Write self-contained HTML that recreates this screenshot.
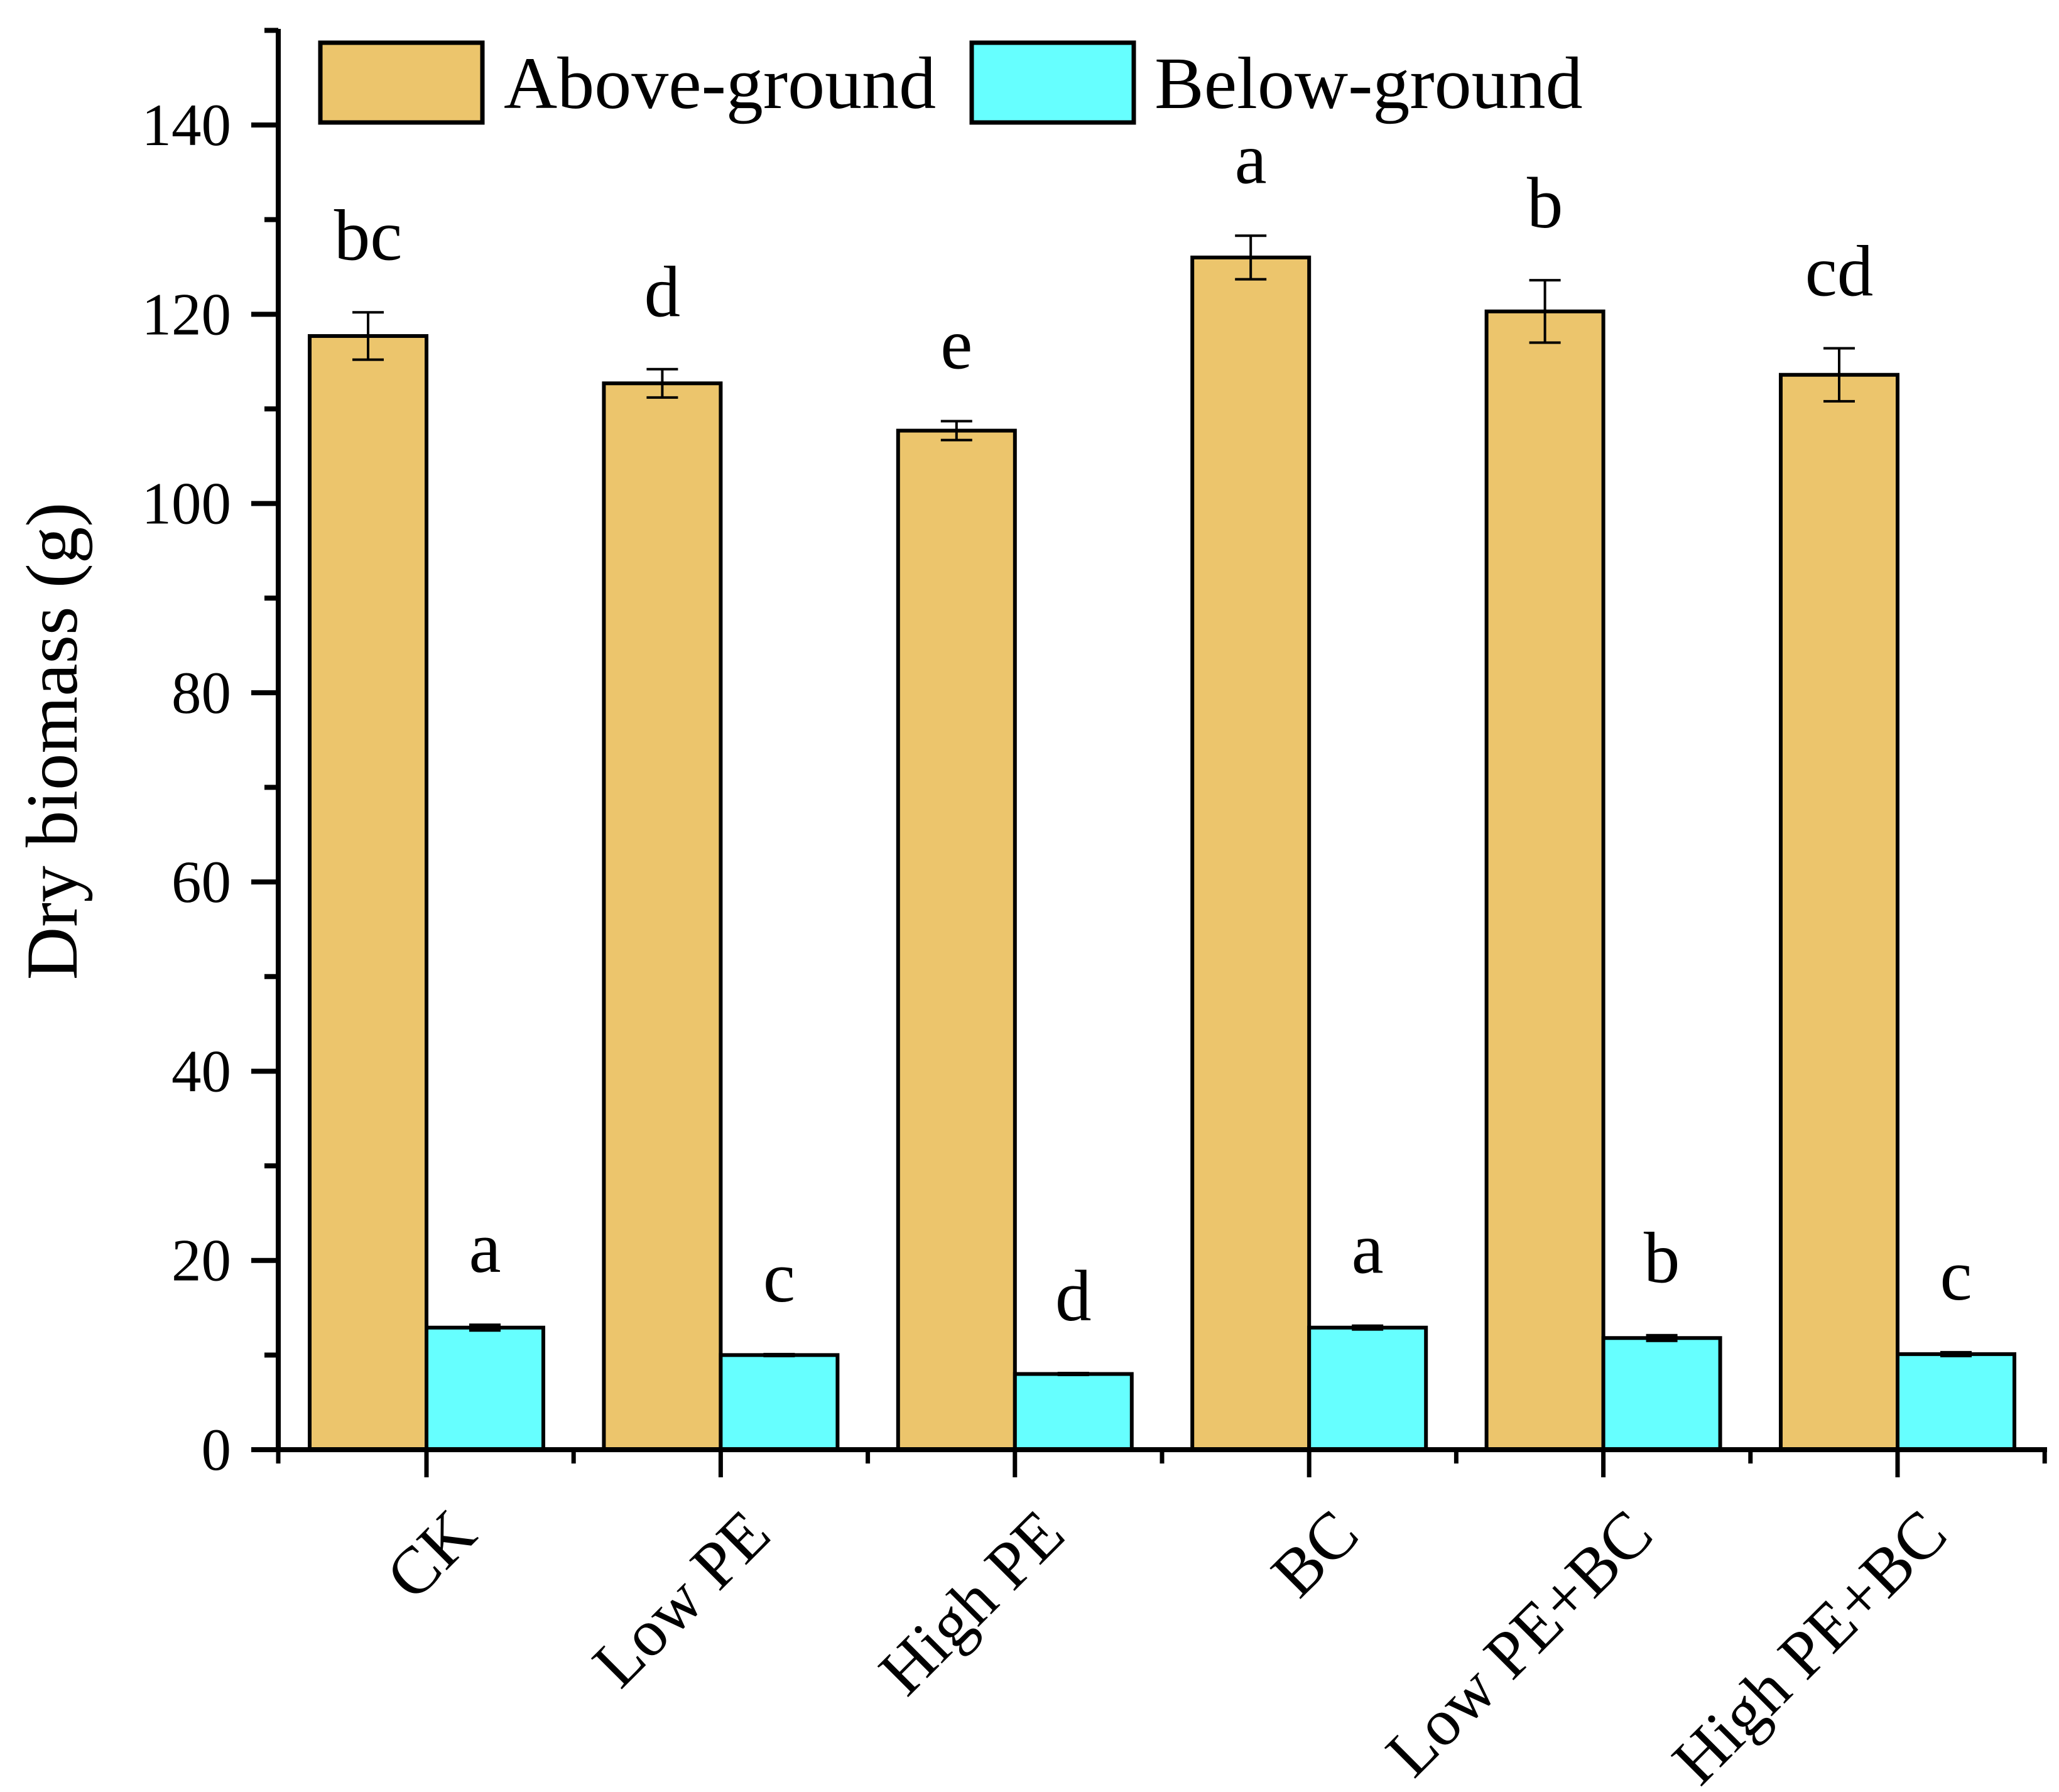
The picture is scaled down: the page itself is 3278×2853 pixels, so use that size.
<!DOCTYPE html>
<html><head><meta charset="utf-8"><style>
html,body{margin:0;padding:0;background:#fff;}
svg{display:block;font-family:"Liberation Serif","Times New Roman",serif;}
</style></head><body>
<svg id="chart" width="3278" height="2853" viewBox="0 0 3278 2853" xmlns="http://www.w3.org/2000/svg">
<rect width="3278" height="2853" fill="#fff"/>
<g id="legend">
  <rect x="510" y="68" width="258" height="127" fill="#ecc56c" stroke="#000" stroke-width="7"/>
  <text x="802" y="172" font-size="118">Above-ground</text>
  <rect x="1547" y="68" width="258" height="127" fill="#66ffff" stroke="#000" stroke-width="7"/>
  <text x="1838" y="172" font-size="118">Below-ground</text>
</g>
<text transform="translate(122,1180) rotate(-90)" text-anchor="middle" font-size="117">Dry biomass (g)</text>
<g id="plot"></g>
</svg>
<script>
const categories = ["CK","Low PE","High PE","BC","Low PE+BC","High PE+BC"];
const aboveValues = [117.7,112.7,107.7,126.0,120.3,113.6];
const aboveErrors = [2.5,1.5,1.0,2.3,3.3,2.8];
const aboveLetters = ["bc","d","e","a","b","cd"];
const belowValues = [12.9,10.0,8.0,12.9,11.8,10.1];
const belowErrors = [0.3,0.1,0.1,0.2,0.3,0.2];
const belowLetters = ["a","c","d","a","b","c"];
const yTicks = [0,20,40,60,80,100,120,140];
const yMinorTicks = [10,30,50,70,90,110,130,150];

const NS = "http://www.w3.org/2000/svg";
const plot = document.getElementById("plot");
const X0 = 443, XEND = 3255, Y0 = 2308, PXU = 15.064, STEP = 468.4, C0 = 679, BW = 186;
function y(v){ return Y0 - v*PXU; }
function xc(i){ return C0 + i*STEP; }
function mk(tag, attrs){ const e=document.createElementNS(NS,tag); for(const k in attrs) e.setAttribute(k,attrs[k]); plot.appendChild(e); return e; }

function drawSeries(vals, errs, letters, fill, side, key){
  vals.forEach((v,i)=>{
    const x = side<0 ? xc(i)-BW : xc(i);
    const r = mk("rect",{x:x,y:y(v),width:BW,height:y(0)-y(v),fill:fill,stroke:"#000","stroke-width":6});
    
    
    const cx = x+BW/2, t=y(v+errs[i]), b=y(v-errs[i]);
    const eb = mk("path",{d:`M${cx},${t}V${b}M${cx-25},${t}H${cx+25}M${cx-25},${b}H${cx+25}`,stroke:"#000","stroke-width":4,fill:"none"});
    
    
    const tx = mk("text",{x:cx,y:t-84,"text-anchor":"middle","font-size":115});
    tx.textContent = letters[i];
    
    
  });
}
drawSeries(aboveValues, aboveErrors, aboveLetters, "#ecc56c", -1, "above");
drawSeries(belowValues, belowErrors, belowLetters, "#66ffff", 1, "below");

const ya = mk("line",{x1:X0,y1:Y0+4,x2:X0,y2:46,stroke:"#000","stroke-width":8});


const xa = mk("line",{x1:X0-4,y1:Y0,x2:XEND+4,y2:Y0,stroke:"#000","stroke-width":8});


yTicks.forEach(v=>{
  const l = mk("line",{x1:X0-43,y1:y(v),x2:X0,y2:y(v),stroke:"#000","stroke-width":8});
  
  
  const t = mk("text",{x:368,y:y(v)+32,"text-anchor":"end","font-size":95});
  t.textContent = v;
  
  
});
yMinorTicks.forEach(v=>{
  const l = mk("line",{x1:X0-22,y1:y(v),x2:X0,y2:y(v),stroke:"#000","stroke-width":8});
  
  
});
categories.forEach((c,i)=>{
  const l = mk("line",{x1:xc(i),y1:Y0,x2:xc(i),y2:Y0+44,stroke:"#000","stroke-width":7});
  
  
  const m = mk("line",{x1:xc(i)+STEP/2,y1:Y0,x2:xc(i)+STEP/2,y2:Y0+22,stroke:"#000","stroke-width":7});
  
  
  const ax = xc(i)+84, ay = Y0+140;
  const t = mk("text",{x:ax,y:ay,"text-anchor":"end","font-size":106,transform:`rotate(-45 ${ax} ${ay})`});
  t.textContent = c;
  
  
});
const m0 = mk("line",{x1:X0,y1:Y0,x2:X0,y2:Y0+22,stroke:"#000","stroke-width":7});


</script>
</body></html>
